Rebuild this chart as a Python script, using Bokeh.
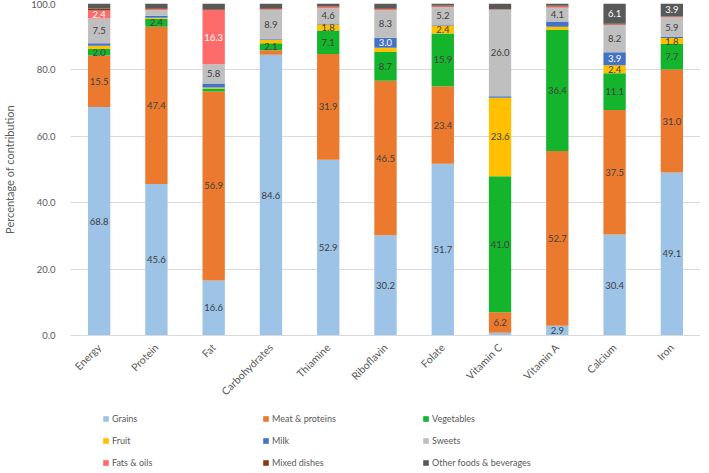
import math
from bokeh.plotting import figure
from bokeh.layouts import column
from bokeh.models import (FactorRange, Range1d, FixedTicker, NumeralTickFormatter,
                          ColumnDataSource, Legend, LegendItem)
from bokeh.core.properties import value
from bokeh.embed import file_html
from bokeh.resources import INLINE

categories = ["Energy", "Protein", "Fat", "Carbohydrates", "Thiamine", "Riboflavin",
              "Folate", "Vitamin C", "Vitamin A", "Calcium", "Iron"]

grains     = [68.8, 45.6, 16.6, 84.6, 52.9, 30.2, 51.7, 0.8, 2.9, 30.4, 49.1]
meat       = [15.5, 47.4, 56.9, 1.3, 31.9, 46.5, 23.4, 6.2, 52.7, 37.5, 31.0]
vegetables = [2.0, 2.4, 0.9, 2.1, 7.1, 8.7, 15.9, 41.0, 36.4, 11.1, 7.7]
fruit      = [1.0, 0.3, 0.3, 1.0, 1.8, 1.3, 2.4, 23.6, 1.0, 2.4, 1.8]
milk       = [0.7, 0.6, 1.2, 0.2, 0.3, 3.0, 0.3, 0.5, 1.6, 3.9, 0.3]
sweets     = [7.5, 1.7, 5.8, 8.9, 4.6, 8.3, 5.2, 26.0, 4.1, 8.2, 5.9]
fats_oils  = [2.4, 0.3, 16.3, 0.2, 0.4, 0.3, 0.2, 0.1, 0.4, 0.2, 0.2]
mixed      = [0.6, 0.3, 0.3, 0.3, 0.2, 0.3, 0.3, 0.1, 0.2, 0.2, 0.1]
other      = [1.5, 1.4, 1.7, 1.4, 0.8, 1.4, 0.6, 1.7, 0.7, 6.1, 3.9]

series_names = ["Grains", "Meat & proteins", "Vegetables", "Fruit", "Milk", "Sweets",
                "Fats & oils", "Mixed dishes", "Other foods & beverages"]
series_values = [grains, meat, vegetables, fruit, milk, sweets, fats_oils, mixed, other]
colors = ["#9DC3E6", "#EC7A2E", "#14B42C", "#FFC000", "#4472C4", "#BFBFBF",
          "#FF6B6B", "#8B3A12", "#595959"]
label_colors = ["#404040", "#404040", "#404040", "#404040", "#FFFFFF", "#404040",
                "#FFFFFF", "#FFFFFF", "#FFFFFF"]
label_min = 1.8
FONT = "Lato"

keys = ["s%d" % i for i in range(len(series_names))]
data = {"cat": categories}
for k, vals in zip(keys, series_values):
    data[k] = vals
source = ColumnDataSource(data)

p = figure(x_range=FactorRange(*categories), y_range=Range1d(0, 100),
           width=700, height=408, output_backend="svg", toolbar_location=None,
           min_border_left=55, min_border_right=0, min_border_top=3, min_border_bottom=73)

renderers = p.vbar_stack(keys, x="cat", width=0.39, color=colors, source=source, line_width=0)

# data labels
bottoms = [0.0] * len(categories)
for vals, tc in zip(series_values, label_colors):
    xs, ys, ts = [], [], []
    for i, v in enumerate(vals):
        if v >= label_min:
            xs.append(categories[i])
            ys.append(bottoms[i] + v / 2)
            ts.append("%.1f" % v)
        bottoms[i] += v
    if xs:
        p.text(x=xs, y=ys, text=ts, text_align="center", text_baseline="middle",
               text_font=value(FONT), text_font_size="9.5px", text_color=tc)

p.yaxis.ticker = FixedTicker(ticks=[0, 20, 40, 60, 80, 100])
p.yaxis.formatter = NumeralTickFormatter(format="0.0")
p.yaxis.axis_label = "Percentage of contribution"
p.yaxis.axis_label_text_font = FONT
p.yaxis.axis_label_text_font_style = "normal"
p.yaxis.axis_label_text_font_size = "11px"
p.yaxis.axis_label_text_color = "#595959"
p.yaxis.axis_label_standoff = 12
p.yaxis.axis_line_color = None
p.yaxis.major_tick_line_color = None
p.yaxis.minor_tick_line_color = None
p.yaxis.major_label_standoff = 9
for ax in (p.xaxis, p.yaxis):
    ax.major_label_text_font = FONT
    ax.major_label_text_font_size = "9.5px"
    ax.major_label_text_color = "#595959"

p.xaxis.major_label_orientation = math.pi / 4
p.xaxis.major_label_text_font_size = "10.5px"
p.xaxis.axis_line_color = "#D9D9D9"
p.xaxis.major_tick_line_color = None
p.xaxis.minor_tick_line_color = None
p.xaxis.major_label_standoff = 4

p.xgrid.grid_line_color = None
p.ygrid.grid_line_color = "#D9D9D9"
p.outline_line_color = None

# legend, drawn in its own strip below the chart: three columns of three items
leg_fig = figure(width=700, height=64, output_backend="svg", toolbar_location=None,
                 x_range=Range1d(0, 1), y_range=Range1d(0, 1), min_border=0)
leg_fig.axis.visible = False
leg_fig.grid.grid_line_color = None
leg_fig.outline_line_color = None
# zero-height swatch renderers, only used for the legend glyphs
swatches = [leg_fig.vbar(x=[0.5], top=[0], bottom=[0], width=0.01, color=c, line_width=0)
            for c in colors]

legend_columns = [[0, 3, 6], [1, 4, 7], [2, 5, 8]]
column_x = [32, 192, 352]
for idxs, cx in zip(legend_columns, column_x):
    leg = Legend(items=[LegendItem(label=series_names[i], renderers=[swatches[i]]) for i in idxs])
    leg.location = (cx, 0)
    leg.orientation = "vertical"
    leg.glyph_width = 7
    leg.glyph_height = 7
    leg.label_standoff = 3
    leg.label_height = 20
    leg.spacing = 2
    leg.padding = 0
    leg.margin = 0
    leg.border_line_color = None
    leg.background_fill_alpha = 0
    leg.label_text_font = FONT
    leg.label_text_font_size = "9px"
    leg.label_text_color = "#595959"
    leg_fig.add_layout(leg, "center")

layout = column(p, leg_fig, spacing=0)
open("out.html", "w").write(file_html(layout, INLINE))
